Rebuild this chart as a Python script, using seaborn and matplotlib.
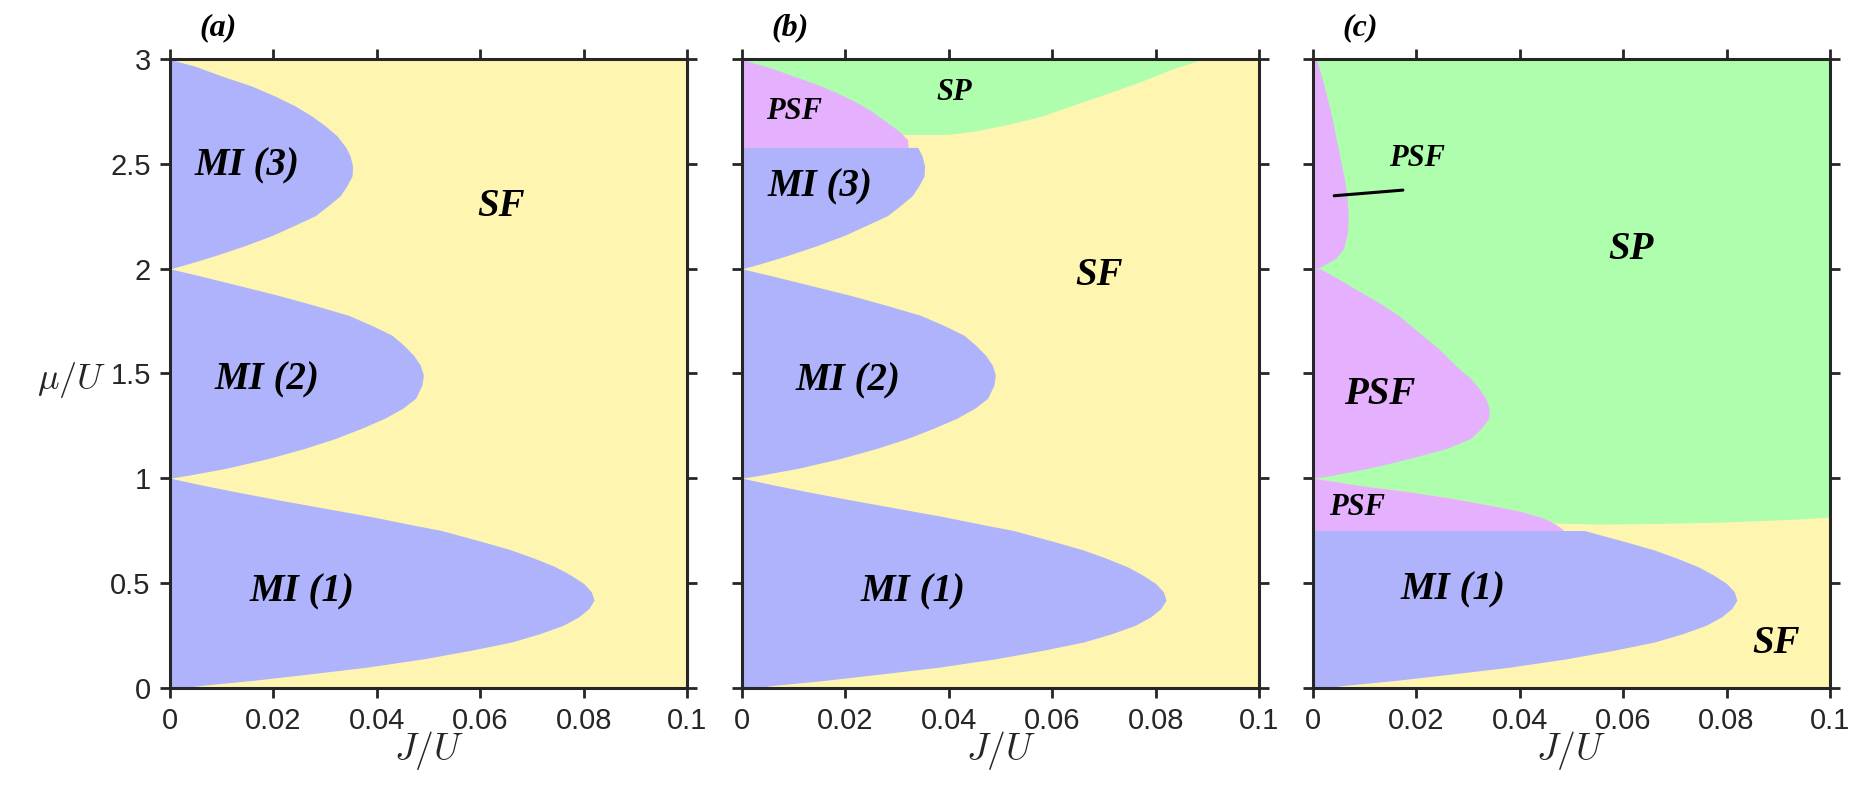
import numpy as np
import matplotlib
matplotlib.use("Agg")
import matplotlib.pyplot as plt
import seaborn as sns

# ---- phase boundaries: (mu/U, J/U) ----
# Mott lobes
mi1_mu = [0.0, 0.01, 0.034, 0.065, 0.097, 0.137, 0.177, 0.217, 0.257, 0.297, 0.337, 0.377,
          0.417, 0.457, 0.497, 0.537, 0.577, 0.617, 0.657, 0.696, 0.75, 0.776, 0.816, 0.856,
          0.896, 0.936, 0.968, 1.0]
mi1_J = [0.003, 0.006, 0.016, 0.027, 0.038, 0.049, 0.058, 0.066, 0.0715, 0.076, 0.079, 0.081,
         0.082, 0.0815, 0.080, 0.0775, 0.0745, 0.0705, 0.066, 0.0605, 0.0525, 0.047, 0.039, 0.030,
         0.021, 0.0125, 0.006, 0.0]

mi2_mu = [1.0, 1.014, 1.048, 1.094, 1.142, 1.19, 1.238, 1.286, 1.334, 1.382, 1.444, 1.492,
          1.540, 1.587, 1.635, 1.683, 1.730, 1.778, 1.825, 1.873, 1.921, 1.968, 2.0]
mi2_J = [0.0, 0.0035, 0.011, 0.019, 0.026, 0.032, 0.037, 0.0415, 0.045, 0.0475, 0.0487, 0.049,
         0.0484, 0.0471, 0.0452, 0.0429, 0.039, 0.0345, 0.028, 0.021, 0.0132, 0.0055, 0.0]

mi3_mu = [2.0, 2.024, 2.063, 2.111, 2.159, 2.206, 2.254, 2.302, 2.349, 2.397, 2.444, 2.492,
          2.540, 2.58, 2.635, 2.683, 2.730, 2.778, 2.825, 2.873, 2.921, 2.968, 3.0]
mi3_J = [0.0, 0.0035, 0.0087, 0.0145, 0.0197, 0.0239, 0.0281, 0.0306, 0.0329, 0.0342, 0.0352,
         0.0353, 0.0348, 0.034, 0.0323, 0.030, 0.0274, 0.0242, 0.0203, 0.0158, 0.010, 0.0048, 0.0]

# panel (b)
mi3_top_b = 2.58
psf_b_mu = [2.58, 2.617, 2.65, 2.68, 2.72, 2.76, 2.80, 2.84, 2.88, 2.92, 2.96, 2.992, 3.0]
psf_b_J = [0.0321, 0.032, 0.0307, 0.0291, 0.0269, 0.0246, 0.0217, 0.0184, 0.0146, 0.010,
           0.0055, 0.001, 0.0]
sp_b_J = [0.0, 0.031, 0.0398, 0.045, 0.0515, 0.058, 0.0644, 0.0709, 0.0773, 0.0838, 0.089]
sp_b_mu = [2.642, 2.642, 2.642, 2.658, 2.69, 2.73, 2.785, 2.84, 2.896, 2.96, 3.0]

# panel (c)
mi1_top_c = 0.75
psf_c_top_mu = [2.0, 2.008, 2.048, 2.095, 2.175, 2.254, 2.333, 2.413, 2.571, 2.730, 2.889, 3.0]
psf_c_top_J = [0.0, 0.0014, 0.0043, 0.0059, 0.0067, 0.0068, 0.0066, 0.0062, 0.0049, 0.0036,
               0.002, 0.0007]
psf_c_mid_mu = [1.0, 1.008, 1.032, 1.063, 1.103, 1.143, 1.19, 1.238, 1.286, 1.333, 1.381, 1.429,
                1.476, 1.524, 1.540, 1.619, 1.698, 1.778, 1.841, 1.905, 1.952, 2.0]
psf_c_mid_J = [0.0, 0.0024, 0.0076, 0.0135, 0.020, 0.0259, 0.0305, 0.0325, 0.034, 0.0341,
               0.0334, 0.0321, 0.0305, 0.0282, 0.0275, 0.0243, 0.0204, 0.0165, 0.0126, 0.0081,
               0.0049, 0.0014]
psf_c_low_mu = [0.75, 0.762, 0.786, 0.81, 0.841, 0.873, 0.905, 0.937, 0.968, 0.984, 1.0]
psf_c_low_J = [0.0485, 0.048, 0.0465, 0.0445, 0.0403, 0.0338, 0.0266, 0.0181, 0.0082,
               0.0043, 0.0]
sp_c_J = [0.0, 0.0043, 0.0082, 0.0181, 0.0266, 0.0338, 0.0403, 0.0445, 0.0465, 0.055, 0.065,
          0.079, 0.094, 0.1]
sp_c_mu = [1.0, 0.984, 0.968, 0.937, 0.905, 0.873, 0.841, 0.81, 0.786, 0.781, 0.783, 0.79,
           0.805, 0.814]
arrow_c_J = [0.0041, 0.0174]
arrow_c_mu = [2.349, 2.376]

x_ticks = [0, 0.02, 0.04, 0.06, 0.08, 0.1]
x_labels = ["0", "0.02", "0.04", "0.06", "0.08", "0.1"]
y_ticks = [0, 0.5, 1, 1.5, 2, 2.5, 3]
y_labels = ["0", "0.5", "1", "1.5", "2", "2.5", "3"]
panel_tags = ["(a)", "(b)", "(c)"]

C_MI = "#afb3fc"
C_SF = "#fef6b0"
C_SP = "#aefead"
C_PSF = "#e5b0fd"
DARK = "#262626"

sns.set_style("ticks")
plt.rcParams["font.family"] = ["Liberation Sans", "DejaVu Sans"]
plt.rcParams["mathtext.fontset"] = "cm"

fig = plt.figure(figsize=(18.65, 7.95), dpi=100)
lefts = [0.0912, 0.3979, 0.7040]
axes = [fig.add_axes([l, 0.1352, 0.2772, 0.790]) for l in lefts]

lab = dict(family=["Liberation Serif", "DejaVu Serif"], weight="bold", style="italic",
           ha="center", va="center", color="black")
BIG, SMALL = 28, 22


def fill_lobe(ax, mu, J, color, lo=None, hi=None):
    mu = np.asarray(mu)
    J = np.asarray(J)
    keep = np.ones_like(mu, dtype=bool)
    if lo is not None:
        keep &= mu >= lo
    if hi is not None:
        keep &= mu <= hi
    ax.fill_betweenx(mu[keep], 0, J[keep], color=color, lw=0)


# (a)
ax = axes[0]
fill_lobe(ax, mi1_mu, mi1_J, C_MI)
fill_lobe(ax, mi2_mu, mi2_J, C_MI)
fill_lobe(ax, mi3_mu, mi3_J, C_MI)
ax.text(0.0149, 2.49, "MI (3)", fontsize=BIG, **lab)
ax.text(0.064, 2.30, "SF", fontsize=BIG, **lab)
ax.text(0.0187, 1.47, "MI (2)", fontsize=BIG, **lab)
ax.text(0.0255, 0.455, "MI (1)", fontsize=BIG, **lab)

# (b)
ax = axes[1]
ax.fill_between(sp_b_J, sp_b_mu, 3, color=C_SP, lw=0)
fill_lobe(ax, mi1_mu, mi1_J, C_MI)
fill_lobe(ax, mi2_mu, mi2_J, C_MI)
fill_lobe(ax, mi3_mu, mi3_J, C_MI, hi=mi3_top_b)
fill_lobe(ax, psf_b_mu, psf_b_J, C_PSF)
ax.text(0.010, 2.75, "PSF", fontsize=SMALL, **lab)
ax.text(0.041, 2.84, "SP", fontsize=SMALL, **lab)
ax.text(0.015, 2.39, "MI (3)", fontsize=BIG, **lab)
ax.text(0.069, 1.97, "SF", fontsize=BIG, **lab)
ax.text(0.0204, 1.465, "MI (2)", fontsize=BIG, **lab)
ax.text(0.0331, 0.455, "MI (1)", fontsize=BIG, **lab)

# (c)
ax = axes[2]
ax.fill_between(sp_c_J, sp_c_mu, 3, color=C_SP, lw=0)
fill_lobe(ax, mi1_mu, mi1_J, C_MI, hi=mi1_top_c)
fill_lobe(ax, psf_c_low_mu, psf_c_low_J, C_PSF)
fill_lobe(ax, psf_c_mid_mu, psf_c_mid_J, C_PSF)
fill_lobe(ax, psf_c_top_mu, psf_c_top_J, C_PSF)
sns.lineplot(x=arrow_c_J, y=arrow_c_mu, ax=ax, color="black", lw=2.2, sort=False)
ax.text(0.0201, 2.525, "PSF", fontsize=SMALL, **lab)
ax.text(0.0616, 2.094, "SP", fontsize=BIG, **lab)
ax.text(0.0129, 1.40, "PSF", fontsize=BIG, **lab)
ax.text(0.0086, 0.862, "PSF", fontsize=SMALL, **lab)
ax.text(0.0271, 0.466, "MI (1)", fontsize=BIG, **lab)
ax.text(0.0895, 0.208, "SF", fontsize=BIG, **lab)

for i, ax in enumerate(axes):
    ax.set_facecolor(C_SF)
    ax.set_xlim(0, 0.1)
    ax.set_ylim(0, 3)
    ax.set_xticks(x_ticks)
    ax.set_xticklabels(x_labels)
    ax.set_yticks(y_ticks)
    if i == 0:
        ax.set_yticklabels(y_labels)
        ax.set_ylabel(r"$\mu/U$", fontsize=26, rotation=0, va="center", ha="center")
        ax.yaxis.set_label_coords(-0.19, 0.49)
    else:
        ax.set_yticklabels([])
    ax.set_xlabel(r"$J/U$", fontsize=27, va="center")
    ax.xaxis.set_label_coords(0.5, -0.1)
    ax.tick_params(direction="out", length=7, width=2, colors=DARK,
                   top=True, right=True, pad=7)
    for t in ax.get_xticklabels() + ax.get_yticklabels():
        t.set_fontsize(21)
    for s in ax.spines.values():
        s.set_visible(True)
        s.set_linewidth(2.2)
        s.set_color(DARK)
    ax.text(0.0092, 3.15, panel_tags[i], fontsize=23, clip_on=False, **lab)
    ax.grid(False)

fig.savefig("out.png", dpi=100)
